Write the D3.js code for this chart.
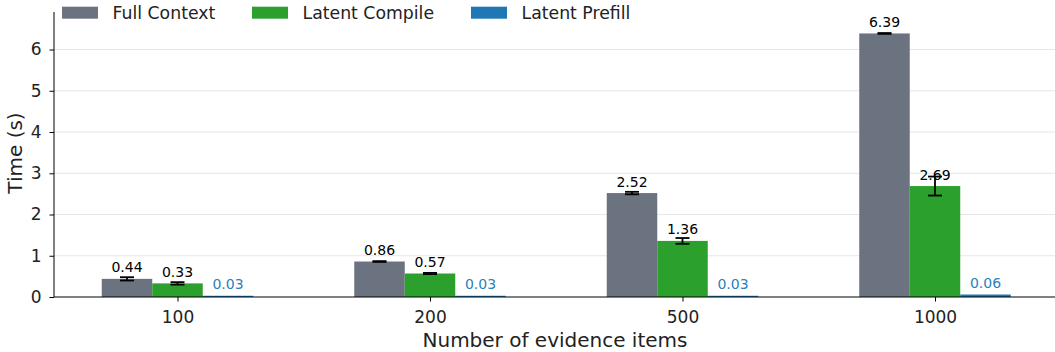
<!DOCTYPE html>
<html><head><meta charset="utf-8">
<script src="https://cdn.jsdelivr.net/npm/d3@7"></script>
<style>body{margin:0;background:#fff}svg{font-family:"DejaVu Sans",sans-serif}</style>
</head><body><svg id="c" width="1055" height="352"></svg>
<script>
const categories = ["100","200","500","1000"];
const seriesNames = ["Full Context","Latent Compile","Latent Prefill"];
const fullContext = [0.44, 0.86, 2.52, 6.39];
const latentCompile = [0.33, 0.57, 1.36, 2.69];
const latentPrefill = [0.03, 0.03, 0.03, 0.06];
const fullContextErr = [0.04, 0.01, 0.03, 0.01];
const latentCompileErr = [0.03, 0.015, 0.07, 0.23];
const latentPrefillErr = [0.002, 0.002, 0.002, 0.003];
const yTicks = [0,1,2,3,4,5,6];
const colors = ["#6b7280","#2ca02c","#1f77b4"];
const labelColors = ["#000","#000","#2a7fbd"];

const svg = d3.select("#c");
const L = 54, R = 1055, T = 12, B = 297;
const x = d3.scaleLinear().domain([0, 3]).range([177.5, 935]);
const y = d3.scaleLinear().domain([0, 6.91]).range([B, T]);
const bw = 0.2;
const series = [fullContext, latentCompile, latentPrefill];
const errs = [fullContextErr, latentCompileErr, latentPrefillErr];

// grid
svg.append("g").selectAll("line").data(yTicks.filter(d=>d>0)).join("line")
  .attr("x1", L).attr("x2", R).attr("y1", d=>y(d)).attr("y2", d=>y(d))
  .attr("stroke", "#e6e6e6").attr("stroke-width", 1);

// bars
series.forEach((vals, s) => {
  const off = (s - 1) * bw;
  const g = svg.append("g");
  g.selectAll("rect").data(vals).join("rect")
    .attr("x", (d,i)=>x(i + off - bw/2)).attr("width", x(bw) - x(0))
    .attr("y", d=>y(d)).attr("height", d=>y(0)-y(d)).attr("fill", colors[s]);
  vals.forEach((v,i) => {
    const e = errs[s][i];
    const cx = x(i + off);
    if (s < 2) {
      g.append("line").attr("x1",cx).attr("x2",cx).attr("y1",y(v-e)).attr("y2",y(v+e)).attr("stroke","#000").attr("stroke-width",1.8);
      [v-e, v+e].forEach(c => g.append("line").attr("x1",cx-7).attr("x2",cx+7).attr("y1",y(c)).attr("y2",y(c)).attr("stroke","#000").attr("stroke-width",1.8));
    }
    g.append("text").attr("x", cx).attr("y", y(v) - 6.5).attr("text-anchor","middle")
      .attr("font-size", 14).attr("fill", labelColors[s]).text(v.toFixed(2));
  });
});

// axes
const yAxis = d3.axisLeft(y).tickValues(yTicks).tickSize(4.5).tickPadding(8).tickFormat(d3.format("d"));
const gy = svg.append("g").attr("transform", `translate(${L},0)`).call(yAxis);
gy.select(".domain").attr("d", `M0,${T}V${B}`).attr("stroke","#000").attr("stroke-width",1);
gy.selectAll("text").attr("font-size", 17).attr("fill","#222").attr("font-family","DejaVu Sans");
gy.selectAll(".tick line").attr("stroke","#000");

const xAxis = d3.axisBottom(x).tickValues([0,1,2,3]).tickFormat(i=>categories[i]).tickSize(4.5).tickPadding(9);
const gx = svg.append("g").attr("transform", `translate(0,${B})`).call(xAxis);
gx.select(".domain").attr("d", `M${L},0H${R}`).attr("stroke","#000").attr("stroke-width",1);
gx.selectAll("text").attr("font-size", 17).attr("fill","#222").attr("font-family","DejaVu Sans");
gx.selectAll(".tick line").attr("stroke","#000");

svg.append("text").attr("x", 555).attr("y", 347).attr("text-anchor","middle").attr("font-size", 20).attr("fill","#222").text("Number of evidence items");
svg.append("text").attr("transform","translate(22,153) rotate(-90)").attr("text-anchor","middle").attr("font-size", 20).attr("fill","#222").text("Time (s)");

// legend
const legX = [62, 252, 471];
seriesNames.forEach((n, s) => {
  svg.append("rect").attr("x", legX[s]).attr("y", 6.7).attr("width", 36).attr("height", 12).attr("fill", colors[s]);
  svg.append("text").attr("x", legX[s] + 50.5).attr("y", 19).attr("font-size", 17.3).attr("fill","#222").text(n);
});
</script></body></html>
